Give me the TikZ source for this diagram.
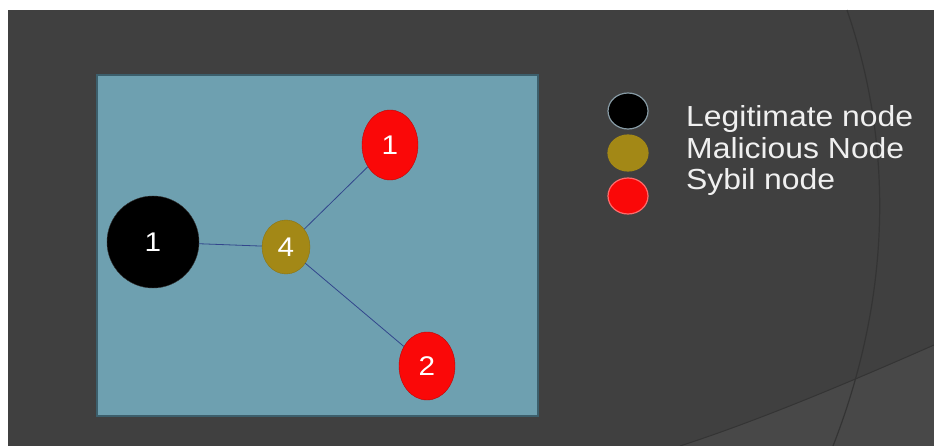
\documentclass[tikz,border=0pt]{standalone}
\usepackage{fontspec}
\setmainfont{Liberation Sans}
\newfontfamily\keyfont[FakeStretch=1.1]{Liberation Sans}
\usetikzlibrary{shapes.geometric, positioning}
\definecolor{slidegrey}{RGB}{64, 64, 64}
\definecolor{slidelight}{RGB}{72, 72, 72}
\definecolor{arcgrey}{RGB}{52, 52, 52}
\definecolor{panelblue}{RGB}{110, 160, 176}
\definecolor{panelrim}{RGB}{60, 95, 108}
\definecolor{maliolive}{RGB}{163, 136, 22}
\definecolor{sybilred}{RGB}{250, 8, 8}
\definecolor{linkblue}{RGB}{50, 70, 140}

\begin{document}
\begin{tikzpicture}[x=1pt, y=-1pt,
  netnode/.style={ellipse, inner sep=0pt, text=white, font=\keyfont\fontsize{27}{27}\selectfont},
  keynode/.style={ellipse, inner sep=0pt, minimum width=40pt, minimum height=36pt, line width=1.2pt},
  keytext/.style={anchor=base west, inner sep=0pt, text=white!94!black, font=\keyfont\fontsize{29}{29}\selectfont},
  link/.style={draw=linkblue, line width=0.8pt}
]
  \useasboundingbox (0,0) rectangle (934,446);
  \fill[white] (0,0) rectangle (934,446);
  \fill[slidegrey] (8,10) rectangle (934,446);
  % background swooshes
  \fill[slidelight] (934,345) .. controls (850,382) and (760,420) .. (680,446) -- (934,446) -- cycle;
  \draw[arcgrey, line width=1.2pt] (847,10) .. controls (895,150) and (890,300) .. (833,446);
  \draw[arcgrey, line width=1pt] (934,345) .. controls (850,382) and (760,420) .. (680,446);

  % network panel
  \draw[panelrim, fill=panelblue, line width=2pt] (97,75) rectangle (538,416);
  \node[netnode, fill=black, draw=black!80, minimum width=92pt, minimum height=92pt] (legit) at (153,242) {1};
  \node[netnode, fill=maliolive, draw=maliolive!85!black, minimum width=48pt, minimum height=54pt] (mal) at (286,247) {4};
  \node[netnode, fill=sybilred, draw=sybilred!75!black, minimum width=56pt, minimum height=70pt] (syba) at (390,145) {1};
  \node[netnode, fill=sybilred, draw=sybilred!75!black, minimum width=56pt, minimum height=68pt] (sybb) at (427,366) {2};
  \draw[link] (legit) -- (mal);
  \draw[link] (mal) -- (syba);
  \draw[link] (mal) -- (sybb);

  % legend
  \node[keynode, fill=black, draw=gray!80!cyan] (keylegit) at (628,111) {};
  \node[keynode, fill=maliolive, draw=maliolive] (keymal) at (628,153) {};
  \node[keynode, fill=sybilred, draw=sybilred!60!white] (keysyb) at (628,196) {};
  \node[keytext] (txtlegit) at (686,127) {Legitimate node};
  \node[keytext] (txtmal) at (686,158.5) {Malicious Node};
  \node[keytext] (txtsyb) at (686,190) {Sybil node};
\end{tikzpicture}
\end{document}
